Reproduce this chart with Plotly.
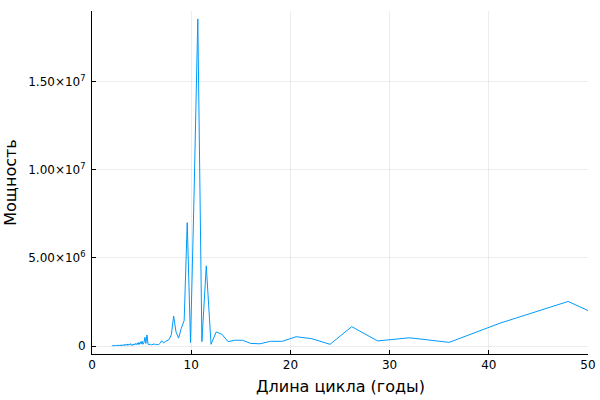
import plotly.graph_objects as go

# Periodogram of yearly series of length 288; harmonics k -> period 288/k
n_years = 288
harmonics = list(range(144, 4, -1))

# Power values (in millions) for each harmonic
power_millions = [
    # k 144..121
    0.01, 0.02, 0.01, 0.03, 0.01, 0.02, 0.02, 0.01, 0.03, 0.02, 0.01, 0.02,
    0.04, 0.01, 0.02, 0.03, 0.01, 0.02, 0.02, 0.03, 0.01, 0.04, 0.02, 0.01,
    # k 120..97
    0.03, 0.02, 0.04, 0.01, 0.03, 0.05, 0.02, 0.03, 0.04, 0.02, 0.05, 0.03,
    0.02, 0.06, 0.03, 0.04, 0.02, 0.05, 0.03, 0.07, 0.02, 0.04, 0.05, 0.03,
    # k 96..73
    0.04, 0.06, 0.03, 0.05, 0.08, 0.04, 0.06, 0.03, 0.09, 0.05, 0.07, 0.04,
    0.10, 0.06, 0.05, 0.12, 0.04, 0.08, 0.06, 0.11, 0.05, 0.09, 0.14, 0.06,
    # k 72..56
    0.06, 0.04, 0.10, 0.05, 0.12, 0.07, 0.15, 0.08, 0.10, 0.18, 0.08, 0.20,
    0.10, 0.24, 0.12, 0.28, 0.10,
    # k 55..51
    0.20, 0.50, 0.15, 0.63, 0.11,
    # k 50..42
    0.08, 0.10, 0.07, 0.09, 0.12, 0.08, 0.10, 0.07, 0.15,
    # k 41..35
    0.30, 0.18, 0.25, 0.30, 0.38, 0.65, 1.70,
    # k 34..27
    0.80, 0.45, 1.00, 1.45, 7.00, 0.20, 8.50, 18.55,
    # k 26..5
    0.25, 4.55, 0.10, 0.80, 0.67, 0.25, 0.33, 0.33, 0.15, 0.13, 0.27, 0.27,
    0.53, 0.42, 0.10, 1.10, 0.29, 0.47, 0.21, 1.30, 2.53, 0.05,
]

periods = [n_years / k for k in harmonics]
power = [v * 1e6 for v in power_millions]

x_ticks = [0, 10, 20, 30, 40, 50]
y_ticks = [0, 5e6, 1e7, 1.5e7]
y_tick_text = ["0", "5.00×10<sup>6</sup>", "1.00×10<sup>7</sup>", "1.50×10<sup>7</sup>"]
x_title = "Длина цикла (годы)"
y_title = "Мощность"

fig = go.Figure()
fig.add_trace(go.Scatter(
    x=periods, y=power, mode="lines",
    line=dict(color="#009AFA", width=1),
    showlegend=False, hoverinfo="x+y",
))

axis_common = dict(
    showline=True, linecolor="black", linewidth=1,
    showgrid=True, gridcolor="rgba(0,0,0,0.07)", gridwidth=0.5,
    zeroline=False, ticks="inside", ticklen=4, tickcolor="black", tickwidth=1,
    tickfont=dict(family="DejaVu Sans", size=12, color="black"),
    mirror=False,
)

fig.update_layout(
    width=600, height=400,
    margin=dict(l=92, r=12, t=11, b=46),
    paper_bgcolor="white", plot_bgcolor="white",
    font=dict(family="DejaVu Sans", color="black"),
    xaxis=dict(
        range=[0, 50], tickvals=x_ticks, automargin=False,
        **axis_common,
    ),
    yaxis=dict(
        range=[-0.45e6, 1.9e7], tickvals=y_ticks, ticktext=y_tick_text,
        automargin="left",
        title=dict(text=y_title, font=dict(size=16), standoff=7),
        ticklabelstandoff=3,
        **axis_common,
    ),
    annotations=[dict(
        text=x_title, xref="paper", yref="paper", x=0.5, y=0,
        xanchor="center", yanchor="middle", yshift=-32, showarrow=False,
        font=dict(family="DejaVu Sans", size=16, color="black"),
    )],
)

fig.write_html("out.html", config={"displayModeBar": False})

# remove the default 8px page margin so the figure sits at the window origin
with open("out.html", "r", encoding="utf-8") as f:
    html = f.read()
html = html.replace("<body>", '<body style="margin:0;padding:0;">', 1)
html = html.replace("<head>", '<head><style>html,body{margin:0;padding:0;overflow:hidden;}</style>', 1)
with open("out.html", "w", encoding="utf-8") as f:
    f.write(html)
